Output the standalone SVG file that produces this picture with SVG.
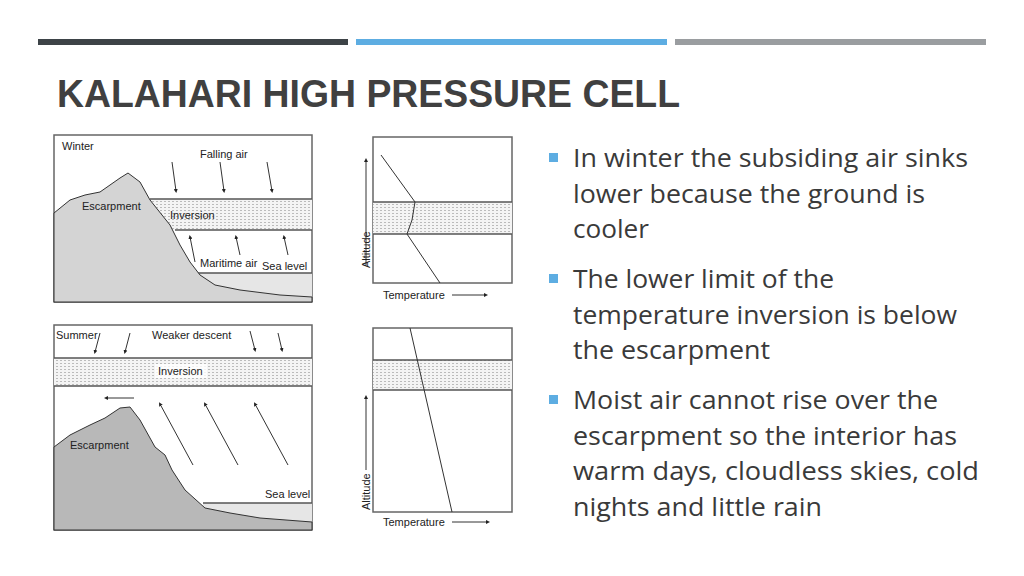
<svg xmlns="http://www.w3.org/2000/svg" width="1024" height="576" viewBox="0 0 1024 576">
<style>
.t{font-family:"Open Sans","Liberation Sans",Arial,sans-serif;fill:#3a3a3a;font-size:25px}
.s{font-family:"Liberation Sans Narrow","Liberation Sans",sans-serif;font-size:11px;fill:#222}
.box{fill:#fff;stroke:#666;stroke-width:1.5}
.ln{stroke:#333;stroke-width:1;fill:none}
.bl{stroke:#555;stroke-width:1.5}
</style>
<defs>
<pattern id="dots" width="4" height="3" patternUnits="userSpaceOnUse"><rect width="4" height="3" fill="#f4f4f4"/><rect width="2" height="1" fill="#bbb"/></pattern>
<marker id="a" markerWidth="4" markerHeight="4" refX="2" refY="2" orient="auto"><path d="M0,0L4,2L0,4z" fill="#222"/></marker>
</defs>
<rect width="1024" height="576" fill="#fff"/>
<rect x="38" y="39" width="310" height="6" fill="#3d4347"/>
<rect x="356" y="39" width="311" height="6" fill="#5dade2"/>
<rect x="675" y="39" width="311" height="6" fill="#9a9da0"/>
<text x="57" y="107" font-family="Liberation Sans Narrow,Liberation Sans,Arial,sans-serif" font-weight="bold" font-size="39" fill="#404040" textLength="623" lengthAdjust="spacingAndGlyphs">KALAHARI HIGH PRESSURE CELL</text>

<g id="winter">
<rect class="box" x="54" y="135" width="258" height="167"/>
<rect x="150" y="199" width="162" height="31" fill="url(#dots)"/>
<line class="bl" x1="150" y1="199" x2="312" y2="199"/><line class="bl" x1="175" y1="230" x2="312" y2="230"/>
<rect x="195" y="273" width="117" height="25" fill="#e6e6e6"/>
<line class="bl" x1="195" y1="273" x2="312" y2="273"/>
<path d="M54,213 L70,200 L85,195 L100,192 L120,178 L128,173 L140,182 L150,200 L170,225 L180,245 L190,262 L200,275 L215,285 L240,290 L280,295 L312,297 L312,302 L54,302Z" fill="#d4d4d4" stroke="#333"/>
<text class="s" x="62" y="150">Winter</text>
<text class="s" x="200" y="158">Falling air</text>
<text class="s" x="82" y="210">Escarpment</text>
<text class="s" x="170" y="219">Inversion</text>
<text class="s" x="200" y="267">Maritime air</text>
<text class="s" x="262" y="270" font-size="9">Sea level</text>
<g class="ln" marker-end="url(#a)"><line x1="172" y1="162" x2="176" y2="191"/><line x1="220" y1="162" x2="224" y2="191"/><line x1="267" y1="162" x2="272" y2="191"/><line x1="195" y1="262" x2="190" y2="237"/><line x1="240" y1="255" x2="236" y2="237"/><line x1="288" y1="255" x2="284" y2="237"/></g>
</g>

<g id="winter-graph">
<rect class="box" x="373" y="137" width="139" height="146"/>
<rect x="373" y="202" width="139" height="32" fill="url(#dots)"/>
<line class="bl" x1="373" y1="202" x2="512" y2="202"/><line class="bl" x1="373" y1="234" x2="512" y2="234"/>
<path class="ln" d="M381,155 L415,202 L412,220 L407,234 L440,283"/>
<line class="ln" x1="366" y1="265" x2="366" y2="160" marker-end="url(#a)"/>
<text class="s" x="370" y="268" transform="rotate(-90 370 268)">Altitude</text>
<text class="s" x="383" y="299">Temperature</text>
<line class="ln" x1="452" y1="295" x2="486" y2="295" marker-end="url(#a)"/>
</g>

<g id="summer">
<rect class="box" x="54" y="325" width="258" height="205"/>
<rect x="54" y="358" width="258" height="28" fill="url(#dots)"/>
<line class="bl" x1="54" y1="358" x2="312" y2="358"/><line class="bl" x1="54" y1="386" x2="312" y2="386"/>
<rect x="155" y="364" width="52" height="14" fill="#fff" opacity="0.8"/>
<rect x="203" y="503" width="109" height="20" fill="#e6e6e6"/>
<line class="bl" x1="203" y1="503" x2="312" y2="503"/>
<path d="M54,447 L70,435 L90,425 L105,418 L120,408 L130,407 L140,420 L155,447 L165,455 L172,470 L185,490 L205,508 L230,513 L260,518 L312,522 L312,530 L54,530Z" fill="#b8b8b8" stroke="#333"/>
<text class="s" x="56" y="339">Summer</text>
<text class="s" x="152" y="339">Weaker descent</text>
<text class="s" x="158" y="375">Inversion</text>
<text class="s" x="70" y="449">Escarpment</text>
<text class="s" x="265" y="498">Sea level</text>
<g class="ln" marker-end="url(#a)"><line x1="100" y1="333" x2="95" y2="352"/><line x1="130" y1="333" x2="125" y2="352"/><line x1="250" y1="331" x2="255" y2="350"/><line x1="278" y1="333" x2="282" y2="350"/><line x1="134" y1="398" x2="106" y2="398"/><line x1="193" y1="465" x2="160" y2="404"/><line x1="238" y1="465" x2="205" y2="404"/><line x1="288" y1="465" x2="255" y2="404"/></g>
</g>

<g id="summer-graph">
<rect class="box" x="373" y="328" width="139" height="184"/>
<rect x="373" y="360" width="139" height="30" fill="url(#dots)"/>
<line class="bl" x1="373" y1="360" x2="512" y2="360"/><line class="bl" x1="373" y1="390" x2="512" y2="390"/>
<line class="ln" x1="410" y1="328" x2="452" y2="512"/>
<line class="ln" x1="366" y1="470" x2="366" y2="397" marker-end="url(#a)"/>
<text class="s" x="370" y="510" transform="rotate(-90 370 510)">Altitude</text>
<text class="s" x="383" y="526">Temperature</text>
<line class="ln" x1="452" y1="522" x2="488" y2="522" marker-end="url(#a)"/>
</g>

<g id="bullets">
<rect x="549" y="153" width="9" height="9" fill="#5dade2"/>
<rect x="549" y="274" width="9" height="9" fill="#5dade2"/>
<rect x="549" y="395" width="9" height="9" fill="#5dade2"/>
<text class="t" x="573" y="167" textLength="395" lengthAdjust="spacingAndGlyphs">In winter the subsiding air sinks</text>
<text class="t" x="573" y="203" textLength="352" lengthAdjust="spacingAndGlyphs">lower because the ground is</text>
<text class="t" x="573" y="238" textLength="76" lengthAdjust="spacingAndGlyphs">cooler</text>
<text class="t" x="573" y="288" textLength="261" lengthAdjust="spacingAndGlyphs">The lower limit of the</text>
<text class="t" x="573" y="324" textLength="384" lengthAdjust="spacingAndGlyphs">temperature inversion is below</text>
<text class="t" x="573" y="359" textLength="197" lengthAdjust="spacingAndGlyphs">the escarpment</text>
<text class="t" x="573" y="409" textLength="365" lengthAdjust="spacingAndGlyphs">Moist air cannot rise over the</text>
<text class="t" x="573" y="445" textLength="384" lengthAdjust="spacingAndGlyphs">escarpment so the interior has</text>
<text class="t" x="573" y="480" textLength="406" lengthAdjust="spacingAndGlyphs">warm days, cloudless skies, cold</text>
<text class="t" x="573" y="516" textLength="249" lengthAdjust="spacingAndGlyphs">nights and little rain</text>
</g>
</svg>
